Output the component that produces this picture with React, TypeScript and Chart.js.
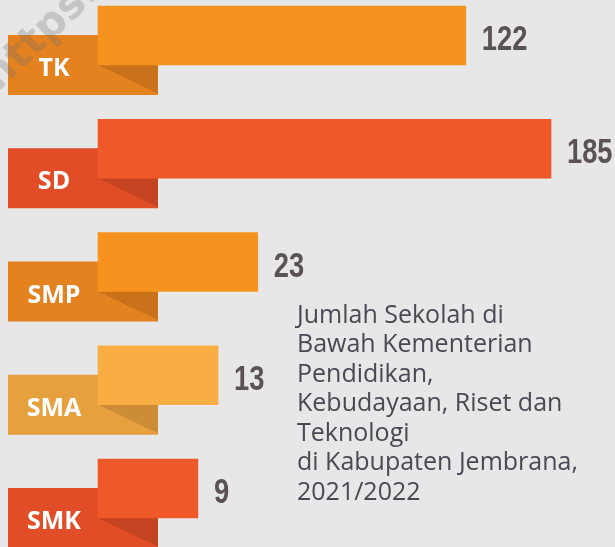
import { useEffect, useRef } from "react";
import { Chart, registerables, LinearScale } from "chart.js";

Chart.register(...registerables);

// ---- data ----
const categories = ["TK", "SD", "SMP", "SMA", "SMK"];
const schoolCounts = [122, 185, 23, 13, 9];
const barColors = ["#f5931e", "#ef592a", "#f5931e", "#f9ad42", "#ef592a"];
const ribbonColors = ["#e48220", "#e04d26", "#e48220", "#e7a03e", "#e04d26"];
const foldColors = ["#c9711b", "#c44320", "#c9711b", "#cd8c37", "#c44320"];
const captionLines = [
  "Jumlah Sekolah di",
  "Bawah Kementerian",
  "Pendidikan,",
  "Kebudayaan, Riset dan",
  "Teknologi",
  "di Kabupaten Jembrana,",
  "2021/2022",
];
const watermarkText = "https://";

// square-root value axis (the infographic compresses long bars)
class SqrtScale extends LinearScale {
  static id = "sqrt";
  static defaults = LinearScale.defaults;
  getPixelForValue(value: number) {
    const lo = Math.sqrt(Math.max(0, this.min));
    const hi = Math.sqrt(Math.max(0, this.max));
    const v = Math.sqrt(Math.max(0, value));
    return this.getPixelForDecimal((v - lo) / (hi - lo || 1));
  }
  getValueForPixel(pixel: number) {
    const lo = Math.sqrt(Math.max(0, this.min));
    const hi = Math.sqrt(Math.max(0, this.max));
    const s = lo + this.getDecimalForPixel(pixel) * (hi - lo);
    return s * s;
  }
}
Chart.register(SqrtScale as any);

const decorPlugin = {
  id: "decor",
  beforeDraw(chart: any) {
    const ctx = chart.ctx;
    ctx.save();
    ctx.fillStyle = "#e7e7e7";
    ctx.fillRect(0, 0, chart.width, chart.height);
    ctx.restore();
  },
  beforeDatasetsDraw(chart: any) {
    const ctx = chart.ctx;
    const meta = chart.getDatasetMeta(0);
    ctx.save();
    meta.data.forEach((bar: any, i: number) => {
      const { y, base, height } = bar.getProps(["y", "base", "height"], true);
      const left = base - 90;
      const right = base + 60;
      const top = y - 0.5;
      const bottom = y + height + 0.5;
      ctx.fillStyle = ribbonColors[i];
      ctx.fillRect(left, top, right - left, bottom - top);
      const barBottom = y + height / 2;
      ctx.fillStyle = foldColors[i];
      ctx.beginPath();
      ctx.moveTo(base, barBottom);
      ctx.lineTo(right, barBottom);
      ctx.lineTo(right, bottom - 1.5);
      ctx.closePath();
      ctx.fill();
      ctx.fillStyle = "#ffffff";
      ctx.font = '700 25px "Open Sans", sans-serif';
      ctx.textAlign = "center";
      ctx.textBaseline = "alphabetic";
      ctx.fillText(categories[i], base - 44, y + 40.5);
    });
    ctx.restore();
  },
  afterDatasetsDraw(chart: any) {
    const ctx = chart.ctx;
    const meta = chart.getDatasetMeta(0);
    ctx.save();
    ctx.fillStyle = "#5a5254";
    ctx.font = '700 35px "Liberation Sans", sans-serif';
    ctx.textAlign = "left";
    ctx.textBaseline = "alphabetic";
    meta.data.forEach((bar: any, i: number) => {
      const { x, y } = bar.getProps(["x", "y"], true);
      ctx.save();
      ctx.translate(x + 16, y + 14.5);
      ctx.scale(0.78, 1);
      ctx.fillText(String(schoolCounts[i]), 0, 0);
      ctx.restore();
    });

    ctx.fillStyle = "#4a4953";
    ctx.font = '400 25px "Open Sans", sans-serif';
    captionLines.forEach((line, i) => {
      ctx.fillText(line, 297, 322.5 + i * 29.5);
    });

    // faint watermark
    ctx.translate(-2, 92);
    ctx.rotate(-0.76);
    ctx.fillStyle = "rgba(110,110,110,0.28)";
    ctx.font = '700 42px "DejaVu Sans", sans-serif';
    ctx.fillText(watermarkText, 0, 0);
    ctx.restore();
  },
};

export default function App() {
  const ref = useRef<HTMLCanvasElement>(null);
  useEffect(() => {
    document.body.style.margin = "0";
    const chart = new Chart(ref.current as HTMLCanvasElement, {
      type: "bar",
      data: {
        labels: categories,
        datasets: [
          {
            data: schoolCounts,
            backgroundColor: barColors,
            borderWidth: 0,
            barThickness: 59,
            clip: false as any,
          },
        ],
      },
      options: {
        indexAxis: "y",
        responsive: false,
        animation: false,
        devicePixelRatio: 1,
        events: [],
        layout: { padding: { left: 98, right: 64, top: 35.5, bottom: 58.5 } },
        scales: {
          x: { type: "sqrt" as any, min: 0, max: 185, bounds: "data", display: false },
          y: { type: "category", offset: false, display: false },
        },
        plugins: {
          legend: { display: false },
          tooltip: { enabled: false },
          title: { display: false },
        },
      } as any,
      plugins: [decorPlugin],
    });
    return () => chart.destroy();
  }, []);
  return (
    <div style={{ position: "absolute", left: 0, top: 0, width: 615, height: 547 }}>
      <canvas ref={ref} width={615} height={547} style={{ display: "block" }} />
    </div>
  );
}
